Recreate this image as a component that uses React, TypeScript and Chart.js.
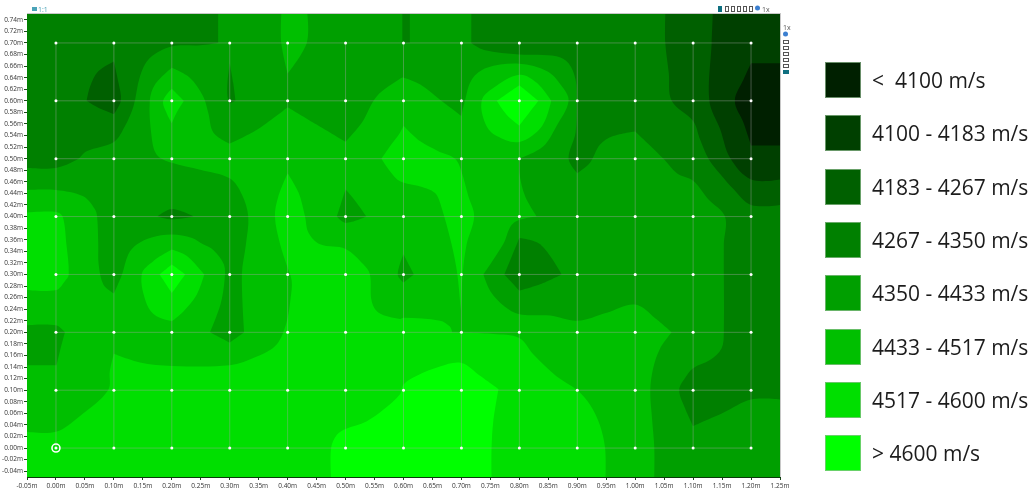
import React, { useEffect, useRef } from "react";
import { Chart, registerables } from "chart.js";

Chart.register(...registerables);

type P = [number, number];

const xTicks = [-0.05, 0, 0.05, 0.1, 0.15, 0.2, 0.25, 0.3, 0.35, 0.4, 0.45, 0.5, 0.55, 0.6, 0.65, 0.7, 0.75, 0.8, 0.85, 0.9, 0.95, 1.0, 1.05, 1.1, 1.15, 1.2, 1.25];
const yTicks = [-0.04, -0.02, 0, 0.02, 0.04, 0.06, 0.08, 0.1, 0.12, 0.14, 0.16, 0.18, 0.2, 0.22, 0.24, 0.26, 0.28, 0.3, 0.32, 0.34, 0.36, 0.38, 0.4, 0.42, 0.44, 0.46, 0.48, 0.5, 0.52, 0.54, 0.56, 0.58, 0.6, 0.62, 0.64, 0.66, 0.68, 0.7, 0.72, 0.74];
const gridX = [0, 0.1, 0.2, 0.3, 0.4, 0.5, 0.6, 0.7, 0.8, 0.9, 1.0, 1.1, 1.2];
const gridY = [0, 0.1, 0.2, 0.3, 0.4, 0.5, 0.6, 0.7];

const bandLabels = ["<  4100 m/s", "4100 - 4183 m/s", "4183 - 4267 m/s", "4267 - 4350 m/s", "4350 - 4433 m/s", "4433 - 4517 m/s", "4517 - 4600 m/s", "> 4600 m/s"];
const bandColors = ["#002000", "#004000", "#006000", "#008000", "#009f00", "#00bf00", "#00df00", "#00ff00"];

const fullPlate: P[] = [[-0.05, -0.05], [1.25, -0.05], [1.25, 0.75], [-0.05, 0.75]];

const band4Main: P[] = [[-0.05, 0.446], [0, 0.446], [0.047, 0.435], [0.067, 0.413], [0.071, 0.4], [0.073, 0.352], [0.0737, 0.317], [0.082, 0.282], [0.1, 0.267], [0.114, 0.3], [0.125, 0.335], [0.14, 0.352], [0.165, 0.364], [0.2, 0.369], [0.235, 0.363], [0.254, 0.352], [0.272, 0.342], [0.29, 0.317], [0.291, 0.29], [0.284, 0.248], [0.266, 0.2], [0.3, 0.182], [0.325, 0.2], [0.321, 0.3], [0.328, 0.352], [0.332, 0.4], [0.321, 0.438], [0.3, 0.466], [0.249, 0.481], [0.2, 0.493], [0.174, 0.507], [0.165, 0.539], [0.162, 0.6], [0.171, 0.628], [0.2, 0.657], [0.231, 0.64], [0.254, 0.608], [0.263, 0.579], [0.272, 0.545], [0.3, 0.526], [0.347, 0.55], [0.4, 0.589], [0.45, 0.559], [0.5, 0.529], [0.528, 0.562], [0.554, 0.608], [0.594, 0.638], [0.6, 0.64], [0.629, 0.628], [0.663, 0.602], [0.7, 0.574], [0.706, 0.6], [0.718, 0.637], [0.744, 0.657], [0.8, 0.664], [0.848, 0.651], [0.872, 0.627], [0.885, 0.6], [0.864, 0.556], [0.841, 0.521], [0.8, 0.5], [0.8, 0.475], [0.81, 0.435], [0.83, 0.4], [0.79, 0.389], [0.772, 0.352], [0.738, 0.3], [0.75, 0.271], [0.774, 0.245], [0.8, 0.231], [0.853, 0.229], [0.9, 0.22], [0.951, 0.234], [1.0, 0.248], [1.035, 0.224], [1.063, 0.2], [1.043, 0.172], [1.031, 0.138], [1.026, 0.1], [1.029, 0.052], [1.033, 0], [1.033, -0.05], [1.25, -0.05], [1.25, 0.75], [-0.05, 0.75]];
const band4Left: P[] = [[-0.05, 0.212], [0, 0.212], [0.0155, 0.2], [0.007, 0.168], [0.001, 0.143], [-0.05, 0.143]];
const band4Low: P[] = [[0.41, 0.2], [0.421, 0.212], [0.478, 0.214], [0.513, 0.212], [0.53, 0.2], [0.5, 0.176], [0.45, 0.19]];
const band4Spot50: P[] = [[0.5, 0.447], [0.519, 0.424], [0.536, 0.4], [0.5, 0.389], [0.485, 0.4]];
const band4Spot60: P[] = [[0.6, 0.335], [0.618, 0.3], [0.6, 0.286], [0.59, 0.3]];
const band5Top: P[] = [[0.389, 0.75], [0.434, 0.75], [0.433, 0.7], [0.4, 0.647], [0.389, 0.7]];

const band3Left: P[] = [[-0.05, 0.484], [0, 0.484], [0.036, 0.498], [0.053, 0.513], [0.1, 0.529], [0.119, 0.556], [0.134, 0.591], [0.145, 0.642], [0.162, 0.674], [0.2, 0.694], [0.249, 0.696], [0.28, 0.7], [0.28, 0.75], [-0.05, 0.75]];
const band3Right: P[] = [[0.717, 0.75], [0.717, 0.7], [0.739, 0.688], [0.8, 0.68], [0.864, 0.677], [0.885, 0.665], [0.897, 0.637], [0.899, 0.6], [0.897, 0.545], [0.885, 0.5], [0.9, 0.475], [0.922, 0.493], [0.939, 0.524], [0.962, 0.539], [1.0, 0.547], [1.049, 0.5], [1.072, 0.475], [1.1, 0.462], [1.127, 0.429], [1.155, 0.4], [1.153, 0.352], [1.153, 0.2], [1.149, 0.172], [1.129, 0.152], [1.1, 0.138], [1.086, 0.121], [1.076, 0.1], [1.086, 0.069], [1.1, 0.038], [1.152, 0.061], [1.2, 0.084], [1.25, 0.084], [1.25, 0.75]];
const band3Strip: P[] = [[0.598, 0.75], [0.611, 0.75], [0.611, 0.7], [0.598, 0.7]];
const band3Spot30: P[] = [[0.3, 0.665], [0.306, 0.631], [0.31, 0.6], [0.3, 0.595], [0.296, 0.608], [0.296, 0.631]];
const band3Spot20: P[] = [[0.2, 0.413], [0.238, 0.4], [0.2, 0.395], [0.175, 0.4]];
const band3Spot80: P[] = [[0.8, 0.363], [0.836, 0.352], [0.873, 0.3], [0.836, 0.283], [0.8, 0.272], [0.774, 0.3]];

const band2Spot10: P[] = [[0.1, 0.668], [0.108, 0.631], [0.112, 0.6], [0.1, 0.577], [0.073, 0.588], [0.053, 0.6], [0.059, 0.625], [0.073, 0.651]];
const band2Right: P[] = [[1.052, 0.75], [1.052, 0.7], [1.058, 0.648], [1.063, 0.6], [1.1, 0.565], [1.112, 0.533], [1.127, 0.499], [1.147, 0.473], [1.17, 0.447], [1.2, 0.42], [1.25, 0.42], [1.25, 0.75]];
const band1Right: P[] = [[1.134, 0.75], [1.132, 0.7], [1.128, 0.6], [1.147, 0.55], [1.164, 0.501], [1.2, 0.464], [1.25, 0.464], [1.25, 0.75]];
const band0Right: P[] = [[1.25, 0.665], [1.2, 0.665], [1.187, 0.637], [1.172, 0.6], [1.187, 0.562], [1.2, 0.523], [1.25, 0.523]];

const band6Main: P[] = [[-0.05, 0.028], [0, 0.028], [0.041, 0.055], [0.09, 0.1], [0.093, 0.133], [0.1, 0.163], [0.145, 0.148], [0.2, 0.142], [0.3, 0.143], [0.347, 0.158], [0.381, 0.179], [0.398, 0.217], [0.405, 0.258], [0.407, 0.289], [0.398, 0.317], [0.387, 0.352], [0.378, 0.4], [0.384, 0.435], [0.4, 0.475], [0.419, 0.441], [0.43, 0.4], [0.436, 0.372], [0.456, 0.352], [0.5, 0.344], [0.531, 0.317], [0.542, 0.3], [0.545, 0.254], [0.557, 0.234], [0.594, 0.223], [0.6, 0.225], [0.663, 0.22], [0.68, 0.21], [0.684, 0.2], [0.755, 0.197], [0.8, 0.19], [0.824, 0.162], [0.864, 0.124], [0.9, 0.1], [0.922, 0.075], [0.939, 0.04], [0.948, 0], [0.949, -0.05], [-0.05, -0.05]];
const band6Ridge: P[] = [[0.6, 0.557], [0.629, 0.53], [0.66, 0.513], [0.689, 0.5], [0.7, 0.478], [0.712, 0.435], [0.722, 0.4], [0.709, 0.352], [0.702, 0.3], [0.699, 0.236], [0.693, 0.3], [0.683, 0.352], [0.665, 0.418], [0.654, 0.441], [0.629, 0.452], [0.594, 0.461], [0.577, 0.478], [0.562, 0.5], [0.577, 0.522], [0.594, 0.545]];
const band6Spot20: P[] = [[0.2, 0.621], [0.221, 0.6], [0.208, 0.579], [0.2, 0.561], [0.191, 0.579], [0.185, 0.6]];
const band6Left: P[] = [[-0.05, 0.407], [0, 0.408], [0.0115, 0.4], [0.018, 0.352], [0.022, 0.3], [0.015, 0.288], [0, 0.273], [-0.05, 0.273]];
const band6Ring20: P[] = [[0.2, 0.343], [0.226, 0.332], [0.256, 0.3], [0.243, 0.265], [0.22, 0.236], [0.2, 0.219], [0.173, 0.228], [0.157, 0.248], [0.148, 0.3], [0.168, 0.323]];
const band6Ring80: P[] = [[0.8, 0.645], [0.83, 0.631], [0.855, 0.6], [0.839, 0.556], [0.8, 0.529], [0.761, 0.539], [0.742, 0.559], [0.735, 0.6], [0.755, 0.622]];

const band7Main: P[] = [[0.475, -0.05], [0.475, 0], [0.485, 0.023], [0.5, 0.033], [0.536, 0.046], [0.565, 0.066], [0.594, 0.093], [0.6, 0.11], [0.623, 0.125], [0.663, 0.141], [0.7, 0.147], [0.732, 0.125], [0.764, 0.102], [0.755, 0.046], [0.752, 0], [0.752, -0.05]];
const band7Spot20: P[] = [[0.2, 0.317], [0.223, 0.3], [0.2, 0.268], [0.179, 0.3]];
const band7Spot80: P[] = [[0.8, 0.627], [0.833, 0.6], [0.8, 0.557], [0.778, 0.576], [0.761, 0.6]];

const layers: [number, P[]][] = [
  [5, fullPlate],
  [4, band4Main], [4, band4Left], [4, band4Low], [4, band4Spot50], [4, band4Spot60],
  [3, band3Left], [3, band3Right], [3, band3Strip], [3, band3Spot30], [3, band3Spot20], [3, band3Spot80],
  [2, band2Spot10], [2, band2Right], [1, band1Right], [0, band0Right],
  [5, band5Top],
  [6, band6Main], [6, band6Ridge], [6, band6Spot20], [6, band6Left], [6, band6Ring20], [6, band6Ring80],
  [7, band7Main], [7, band7Spot20], [7, band7Spot80],
];

// Traces an element path through the scaled points; vertices that turn sharply stay corners.
function traceContour(ctx: CanvasRenderingContext2D, pts: any[]) {
  const n = pts.length;
  const at = (i: number) => pts[(i + n) % n];
  const sharp = pts.map((_, i) => {
    const a = at(i - 1), b = at(i), c = at(i + 1);
    const t1 = Math.atan2(b.y - a.y, b.x - a.x);
    const t2 = Math.atan2(c.y - b.y, c.x - b.x);
    let d = Math.abs(t2 - t1);
    if (d > Math.PI) d = 2 * Math.PI - d;
    return d > 0.95;
  });
  ctx.moveTo(pts[0].x, pts[0].y);
  for (let i = 0; i < n; i++) {
    const p0 = at(i - 1), p1 = at(i), p2 = at(i + 1), p3 = at(i + 2);
    const len = Math.hypot(p2.x - p1.x, p2.y - p1.y);
    const l1 = Math.hypot(p2.x - p0.x, p2.y - p0.y) || 1;
    const l2 = Math.hypot(p3.x - p1.x, p3.y - p1.y) || 1;
    const c1 = sharp[i] ? p1 : { x: p1.x + ((p2.x - p0.x) / l1) * len * 0.33, y: p1.y + ((p2.y - p0.y) / l1) * len * 0.33 };
    const c2 = sharp[(i + 1) % n] ? p2 : { x: p2.x - ((p3.x - p1.x) / l2) * len * 0.33, y: p2.y - ((p3.y - p1.y) / l2) * len * 0.33 };
    ctx.bezierCurveTo(c1.x, c1.y, c2.x, c2.y, p2.x, p2.y);
  }
  ctx.closePath();
}

const contourPlugin = {
  id: "contourFill",
  beforeDatasetsDraw(chart: any) {
    const { ctx, chartArea: a } = chart;
    ctx.save();
    ctx.beginPath();
    ctx.rect(a.left, a.top, a.right - a.left, a.bottom - a.top);
    ctx.clip();
    chart.data.datasets.forEach((ds: any, i: number) => {
      if (!ds.contourColor) return;
      ctx.beginPath();
      traceContour(ctx, chart.getDatasetMeta(i).data);
      ctx.fillStyle = ds.contourColor;
      ctx.fill();
    });
    ctx.restore();
  },
};

const decorPlugin = {
  id: "decor",
  afterDraw(chart: any) {
    const { ctx, chartArea: a } = chart;
    ctx.save();
    ctx.fillStyle = "#c8c8c8";
    ctx.fillRect(a.left, a.top - 1, a.right - a.left + 1, 1);
    ctx.fillRect(a.right, a.top - 1, 1, a.bottom - a.top + 1);
    // key
    ctx.textBaseline = "middle";
    ctx.textAlign = "left";
    ctx.font = "21px 'Open Sans'";
    bandColors.forEach((c, i) => {
      const top = Math.round(62 + i * 53.3);
      ctx.fillStyle = c;
      ctx.fillRect(825, top, 36, 36);
      ctx.strokeStyle = "rgba(150,190,150,0.7)";
      ctx.lineWidth = 1;
      ctx.strokeRect(825.5, top + 0.5, 35, 35);
      ctx.fillStyle = "#1c1c1c";
      ctx.fillText(bandLabels[i], 872, top + 20);
    });
    // toolbars
    ctx.font = "7px 'Open Sans'";
    ctx.fillStyle = "#4aa3b8";
    ctx.fillRect(32, 7, 5, 4);
    ctx.fillText("1:1", 38, 9.5);
    ctx.fillStyle = "#0f6f80";
    ctx.fillRect(718, 6, 4, 6);
    ctx.strokeStyle = "#555555";
    [725, 731, 737, 743, 749].forEach((x) => ctx.strokeRect(x + 0.5, 6.5, 3, 5));
    ctx.fillStyle = "#3b7fd0";
    ctx.beginPath();
    ctx.arc(757.5, 8, 2.5, 0, 7);
    ctx.fill();
    ctx.fillStyle = "#555555";
    ctx.fillText("1x", 762, 9.5);
    ctx.fillText("1x", 783, 27.5);
    ctx.fillStyle = "#3b7fd0";
    ctx.beginPath();
    ctx.arc(785.5, 34, 2.5, 0, 7);
    ctx.fill();
    [40, 46, 52, 58, 64].forEach((y) => ctx.strokeRect(783.5, y + 0.5, 5, 3));
    ctx.fillStyle = "#0f6f80";
    ctx.fillRect(783, 70, 6, 4);
    ctx.restore();
  },
};

export default function App() {
  const ref = useRef<HTMLCanvasElement>(null);
  useEffect(() => {
    const polygonSets = layers.map(([band, pts]) => ({
      data: pts.map(([x, y]) => ({ x, y })),
      contourColor: bandColors[band],
      showLine: false,
      pointRadius: 0,
      order: 10,
    }));
    const gridStroke = "rgba(165,165,165,0.42)";
    const verticals = gridX.map((x) => ({
      data: [{ x, y: gridY[0] }, { x, y: gridY[gridY.length - 1] }],
      showLine: true, borderColor: gridStroke, borderWidth: 1, pointRadius: 0, order: 5,
    }));
    const horizontals = gridY.map((y) => ({
      data: [{ x: gridX[0], y }, { x: gridX[gridX.length - 1], y }],
      showLine: true, borderColor: gridStroke, borderWidth: 1, pointRadius: 0, order: 5,
    }));
    const stations = {
      data: gridX.flatMap((x) => gridY.map((y) => ({ x, y }))),
      showLine: false, pointRadius: 1.5, pointBackgroundColor: "#ffffff", pointBorderWidth: 0, order: 2,
    };
    const origin = {
      data: [{ x: gridX[0], y: gridY[0] }],
      showLine: false, pointRadius: 4, pointBackgroundColor: "rgba(0,0,0,0)", pointBorderColor: "#ffffff", pointBorderWidth: 1.6, order: 1,
    };
    const tick = (v: number) => v.toFixed(2) + "m";
    const font = { family: "'Open Sans'", size: 6.5 };
    const chart = new Chart(ref.current as HTMLCanvasElement, {
      type: "scatter",
      data: { datasets: [...polygonSets, ...verticals, ...horizontals, stations, origin] as any },
      options: {
        animation: false,
        responsive: false,
        layout: { padding: { top: 14, right: 255, left: 0, bottom: 0 } },
        plugins: { legend: { display: false }, tooltip: { enabled: false } },
        events: [],
        scales: {
          x: {
            type: "linear", min: -0.05, max: 1.25,
            afterBuildTicks: (s: any) => { s.ticks = xTicks.map((value) => ({ value })); },
            afterFit: (s: any) => { s.height = 13; },
            ticks: { callback: tick, autoSkip: false, maxRotation: 0, minRotation: 0, font, color: "#333333", padding: 2 },
            grid: { drawOnChartArea: false, tickLength: 3, color: "#1a4a1a" },
            border: { color: "#0a3a0a", width: 1 },
          },
          y: {
            type: "linear", min: -0.05, max: 0.75,
            afterBuildTicks: (s: any) => { s.ticks = yTicks.map((value) => ({ value })); },
            afterFit: (s: any) => { s.width = 27; },
            ticks: { callback: tick, autoSkip: false, font, color: "#333333", padding: 1 },
            grid: { drawOnChartArea: false, tickLength: 3, color: "#1a4a1a" },
            border: { color: "#0a3a0a", width: 1 },
          },
        },
      },
      plugins: [contourPlugin, decorPlugin],
    } as any);
    return () => chart.destroy();
  }, []);
  return (
    <div style={{ position: "absolute", left: 0, top: 0, width: 1035, height: 490 }}>
      <canvas ref={ref} width={1035} height={490} style={{ display: "block" }} />
    </div>
  );
}
